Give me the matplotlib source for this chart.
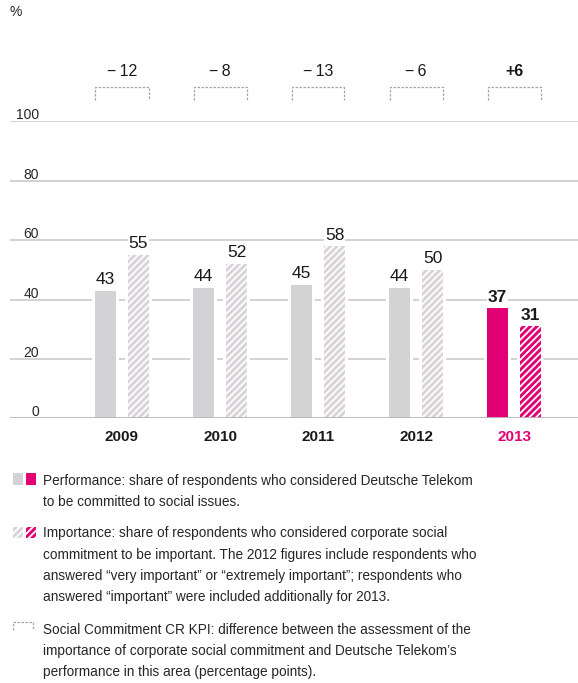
import numpy as np
import matplotlib
matplotlib.use("Agg")
import matplotlib.pyplot as plt
from matplotlib.patches import Rectangle
from matplotlib.lines import Line2D

# data
years = ["2009", "2010", "2011", "2012", "2013"]
performance = [43, 44, 45, 44, 37]
importance = [55, 52, 58, 50, 31]
kpi = [-12, -8, -13, -6, 6]
yticks = [0, 20, 40, 60, 80, 100]

GRAY = "#d3d3d5"
GRAY_H = "#dad4d8"
MAGENTA = "#e20074"
GRID = "#c6c6c6"
TEXT = "#262626"

plt.rcParams["font.family"] = ["Liberation Sans", "DejaVu Sans"]
plt.rcParams["hatch.linewidth"] = 1.3

W, H = 578, 683
fig = plt.figure(figsize=(W / 100, H / 100), dpi=100)


def fx(x):
    return x / W


def fy(y):
    return 1 - y / H


# main axes: pixel x 10..578, y 0 -> 418.3, 100 -> 121.3
y0, y100 = 418.3, 121.3
ax = fig.add_axes([fx(10), fy(y0), fx(578) - fx(10), (y0 - y100) / H])
ppu = (y0 - y100) / 100.0
ax.set_ylim(0, 100)
ax.set_xlim((10 - 122) / 98, (578 - 122) / 98)
ax.axis("off")

x = np.arange(len(years))
bw = 21 / 98
off = 16.5 / 98
pad = 3 / 98

for t in yticks[1:]:
    ax.axhline(t, color=GRID, lw=1.1, zorder=1)
ax.axhline(0, color="#b8b8b8", lw=1.3, zorder=4)
for t in yticks:
    ax.text((39 - 10) / 568, t + 6 / ppu, str(t), transform=ax.get_yaxis_transform(),
            ha="right", va="center", fontsize=10, color=TEXT)

for i in range(len(years)):
    last = i == len(years) - 1
    c1 = MAGENTA if last else GRAY
    c2 = MAGENTA if last else GRAY_H
    # white gaps around bars
    for xc, v in [(x[i] - off, performance[i]), (x[i] + off, importance[i])]:
        ax.bar(xc, v, width=bw + 2 * pad, color="white", zorder=2)
    ax.bar(x[i] - off, performance[i], width=bw, color=c1, zorder=3)
    ax.bar(x[i] + off, importance[i], width=bw, color=c2, edgecolor="white",
           linewidth=0, hatch="/////", zorder=3)
    fw = "bold" if last else "normal"
    for xc, v in [(x[i] - off, performance[i]), (x[i] + off, importance[i])]:
        ax.annotate(str(v), (xc, v), xytext=(0, 2.5), textcoords="offset points",
                    ha="center", va="bottom", fontsize=12.5, fontweight=fw, color="#1a1a1a",
                    bbox=dict(boxstyle="square,pad=0.05", fc="white", ec="none"), zorder=5)
    # year label
    ax.text(x[i], -(437 - y0) / ppu, years[i],
            ha="center", va="center", fontsize=11, fontweight="bold",
            color=MAGENTA if last else "#1a1a1a")
    # KPI bracket
    hw = 26.5 / 98
    ytop = (y0 - 86.5) / ppu
    ybot = (y0 - 100) / ppu
    ax.plot([x[i] - hw, x[i] - hw, x[i] + hw, x[i] + hw], [ybot, ytop, ytop, ybot],
            color="#a5a5a5", lw=0.9, ls=(0, (2, 1.2)), clip_on=False)
    lab = ("+%d" % kpi[i]) if kpi[i] > 0 else "\u2212\u2009%d" % abs(kpi[i])
    ax.text(x[i], (y0 - 71.7) / ppu, lab, ha="center", va="center", fontsize=11.5,
            fontweight=fw, color="#1a1a1a")

fig.text(fx(9), fy(12.5), "%", ha="left", va="center", fontsize=10, color=TEXT)


# legend
def swatch(x0, y0_, w, h, color, hatch=None):
    r = Rectangle((fx(x0), fy(y0_ + h)), w / W, h / H, transform=fig.transFigure,
                  facecolor=color, edgecolor="white" if hatch else "none",
                  linewidth=0, hatch=hatch)
    fig.patches.append(r)


swatch(12.7, 473, 10, 12, GRAY)
swatch(25.5, 473, 10, 12, MAGENTA)
swatch(12.7, 527, 10.5, 11, GRAY_H, "/////")
swatch(25.5, 527, 10.5, 11, MAGENTA, "/////")
bx = [12.7, 12.7, 32.7, 32.7]
by = [630, 622, 622, 630]
fig.lines.append(Line2D([fx(v) for v in bx], [fy(v) for v in by], transform=fig.transFigure,
                        color="#a5a5a5", lw=0.9, ls=(0, (2, 1.2))))

legend_lines = [
    (481, "Performance: share of respondents who considered Deutsche Telekom"),
    (502, "to be committed to social issues."),
    (533, "Importance: share of respondents who considered corporate social"),
    (555, "commitment to be important. The 2012 figures include respondents who"),
    (576, "answered \u201cvery important\u201d or \u201cextremely important\u201d; respondents who"),
    (597, "answered \u201cimportant\u201d were included additionally for 2013."),
    (630, "Social Commitment CR KPI: difference between the assessment of the"),
    (651, "importance of corporate social commitment and Deutsche Telekom\u2019s"),
    (672, "performance in this area (percentage points)."),
]
for yy, s in legend_lines:
    fig.text(fx(43.3), fy(yy), s, ha="left", va="center", fontsize=9.85, color=TEXT)

fig.savefig("out.png", dpi=100)
